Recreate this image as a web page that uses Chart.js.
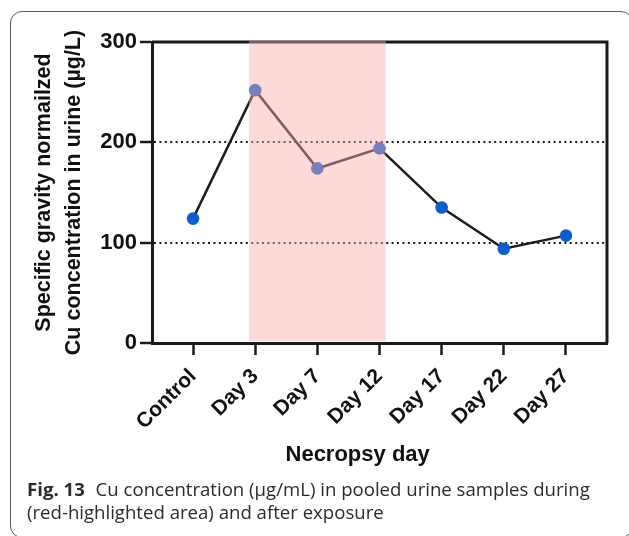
<!DOCTYPE html>
<html>
<head>
<meta charset="utf-8">
<script src="https://cdn.jsdelivr.net/npm/chart.js@4.4.1/dist/chart.umd.min.js"></script>
<style>
  html, body { margin: 0; padding: 0; background: #fff; }
  body { width: 629px; height: 536px; position: relative; overflow: hidden; }
  #frame {
    position: absolute; left: 10px; top: 11px; width: 623px; height: 527px;
    border: 1px solid #5a5a5a; border-radius: 12px; box-sizing: border-box;
  }
  #myChart { position: absolute; left: 0; top: 0; }
  #caption {
    position: absolute; left: 27px; top: 477px; width: 600px;
    font-family: "Open Sans", "Noto Sans", sans-serif; font-size: 18.6px; line-height: 23px;
    color: #2b2b2b; white-space: nowrap;
  }
  #caption b { font-weight: 700; margin-right: 6px; }
</style>
</head>
<body>
<div id="frame"></div>
<canvas id="myChart" width="629" height="480"></canvas>
<div id="caption"><b>Fig. 13</b> Cu concentration (µg/mL) in pooled urine samples during<br>(red-highlighted area) and after exposure</div>
<script>
const dias = ['Control', 'Day 3', 'Day 7', 'Day 12', 'Day 17', 'Day 22', 'Day 27'];
const concentracao = [124, 252, 174, 194, 135, 94, 107];
const yTicks = [0, 100, 200, 300];
// area destacada (exposicao) em unidades do eixo x
const exposicaoInicio = 0.9;
const exposicaoFim = 3.1;

const tituloY = ['Specific gravity normailzed', 'Cu concentration in urine (µg/L)'];
const tituloX = 'Necropsy day';

const pontos = dias.map(function (d, i) { return { x: i, y: concentracao[i] }; });

// linhas de cima e da direita (caixa) + area rosa por cima
const caixaPlugin = {
  id: 'caixa',
  beforeDatasetsDraw(chart) {
    const a = chart.chartArea;
    const c = chart.ctx;
    c.save();
    c.strokeStyle = '#1a1a1a';
    c.lineWidth = 3;
    c.beginPath();
    c.moveTo(a.left, a.top);
    c.lineTo(a.right, a.top);
    c.lineTo(a.right, a.bottom);
    c.stroke();
    c.restore();
  },
  afterDatasetsDraw(chart) {
    const c = chart.ctx;
    const x = chart.scales.x, y = chart.scales.y;
    const x1 = x.getPixelForValue(exposicaoInicio);
    const x2 = x.getPixelForValue(exposicaoFim);
    const y1 = y.getPixelForValue(301);
    const y2 = y.getPixelForValue(2);
    c.save();
    c.fillStyle = 'rgba(250,170,172,0.45)';
    c.fillRect(x1, y1, x2 - x1, y2 - y1);
    c.restore();
  },
  afterDraw(chart) {
    const a = chart.chartArea;
    const c = chart.ctx;
    c.save();
    c.font = 'bold 22px "Liberation Sans", Arial, sans-serif';
    c.fillStyle = '#111';
    c.textAlign = 'center';
    c.textBaseline = 'middle';
    c.fillText(tituloX, a.left + a.width * 0.452, 455);
    c.restore();
  }
};

const ctx = document.getElementById('myChart');
new Chart(ctx, {
  type: 'line',
  data: {
    datasets: [{
      label: 'Cu',
      data: pontos,
      borderColor: '#1c1c1c',
      borderWidth: 2.5,
      pointRadius: 6.3,
      pointHoverRadius: 6.3,
      pointBackgroundColor: '#0b5ecc',
      pointBorderColor: '#0b5ecc',
      pointBorderWidth: 0,
      tension: 0
    }]
  },
  options: {
    responsive: false,
    animation: false,
    events: [],
    layout: { padding: { left: 10, right: 22, top: 42, bottom: 0 } },
    plugins: { legend: { display: false }, tooltip: { enabled: false } },
    scales: {
      x: {
        type: 'linear',
        min: -0.66,
        max: 6.66,
        afterBuildTicks: function (scale) {
          scale.ticks = dias.map(function (d, i) { return { value: i }; });
        },
        afterFit: function (scale) { scale.height = 137; },
        ticks: {
          autoSkip: false,
          minRotation: 45,
          maxRotation: 45,
          padding: 9,
          color: '#111',
          font: { family: '"Liberation Sans", Arial, sans-serif', size: 21, weight: 'bold' },
          callback: function (v) { return dias[v]; }
        },
        grid: { drawOnChartArea: false, tickLength: 12, tickWidth: 2.5, tickColor: '#1a1a1a' },
        border: { color: '#1a1a1a', width: 3 }
      },
      y: {
        min: 0,
        max: 300,
        afterBuildTicks: function (scale) {
          scale.ticks = yTicks.map(function (v) { return { value: v }; });
        },
        afterFit: function (scale) { scale.width = 142; },
        ticks: {
          padding: 3,
          color: '#111',
          font: { family: '"Liberation Sans", Arial, sans-serif', size: 22, weight: 'bold' }
        },
        grid: {
          color: function (c) { return (c.tick && (c.tick.value === 100 || c.tick.value === 200)) ? '#1a1a1a' : 'rgba(0,0,0,0)'; },
          lineWidth: 2,
          tickLength: 12,
          tickWidth: 2.5,
          tickColor: '#1a1a1a'
        },
        border: { color: '#1a1a1a', width: 3, dash: [2, 3.4] },
        title: {
          display: true,
          text: tituloY,
          color: '#111',
          padding: { top: 19, bottom: 0 },
          font: { family: '"Liberation Sans", Arial, sans-serif', size: 21.5, weight: 'bold', lineHeight: 1.4 }
        }
      }
    }
  },
  plugins: [caixaPlugin]
});
</script>
</body>
</html>
